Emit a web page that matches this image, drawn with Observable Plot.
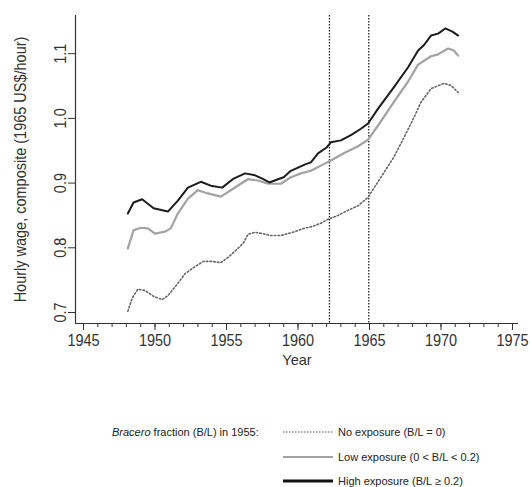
<!DOCTYPE html>
<html>
<head>
<meta charset="utf-8">
<script src="https://cdn.jsdelivr.net/npm/d3@7"></script>
<script src="https://cdn.jsdelivr.net/npm/@observablehq/plot@0.6"></script>
<style>
  body { margin: 0; background: #fff; }
  #wrap { position: relative; width: 530px; height: 487px; font-family: "Liberation Sans", Arial, sans-serif; color: #222; }
  #legend { position: absolute; left: 0; top: 0; width: 530px; height: 487px; pointer-events: none; }
  .lg { position: absolute; font-size: 11px; white-space: nowrap; line-height: 12px; }
</style>
</head>
<body>
<div id="wrap">
  <div id="chart"></div>
  <div id="legend"></div>
</div>
<script>
// ---- data ----
const highYears = [1948.1, 1948.5, 1949.1, 1949.9, 1950.9, 1951.6, 1952.3, 1953.2, 1953.9, 1954.7, 1955.5, 1956.3, 1957.0, 1957.5, 1958.0, 1958.6, 1959.0, 1959.5, 1960.0, 1960.5, 1960.9, 1961.4, 1962.0, 1962.3, 1963.0, 1963.7, 1964.4, 1964.9, 1965.6, 1966.7, 1967.7, 1968.4, 1968.8, 1969.3, 1969.8, 1970.3, 1970.8, 1971.2];
const highWage  = [0.853, 0.870, 0.875, 0.861, 0.856, 0.873, 0.893, 0.902, 0.896, 0.893, 0.907, 0.915, 0.912, 0.907, 0.901, 0.906, 0.909, 0.919, 0.924, 0.929, 0.932, 0.946, 0.955, 0.963, 0.966, 0.974, 0.984, 0.992, 1.015, 1.048, 1.079, 1.105, 1.113, 1.128, 1.131, 1.139, 1.134, 1.128];

const lowYears = [1948.1, 1948.5, 1949.0, 1949.5, 1950.0, 1950.7, 1951.1, 1951.6, 1952.3, 1953.0, 1953.7, 1954.6, 1955.3, 1956.0, 1956.5, 1957.2, 1957.9, 1958.8, 1959.5, 1960.2, 1960.9, 1961.6, 1962.3, 1963.2, 1964.2, 1964.9, 1965.6, 1966.7, 1967.7, 1968.4, 1969.3, 1969.8, 1970.5, 1970.9, 1971.2];
const lowWage  = [0.799, 0.827, 0.831, 0.830, 0.822, 0.825, 0.830, 0.853, 0.876, 0.889, 0.884, 0.879, 0.889, 0.899, 0.906, 0.904, 0.899, 0.899, 0.909, 0.915, 0.919, 0.927, 0.935, 0.946, 0.957, 0.967, 0.989, 1.025, 1.057, 1.083, 1.096, 1.099, 1.108, 1.105, 1.097];

const noYears = [1948.1, 1948.4, 1948.8, 1949.3, 1949.9, 1950.5, 1950.9, 1951.6, 1952.1, 1952.8, 1953.4, 1954.0, 1954.6, 1955.1, 1955.8, 1956.2, 1956.5, 1957.0, 1957.5, 1958.1, 1958.8, 1959.3, 1959.8, 1960.4, 1961.0, 1961.6, 1962.1, 1962.8, 1963.5, 1964.2, 1964.9, 1965.3, 1965.8, 1966.7, 1967.4, 1968.1, 1968.6, 1969.3, 1970.2, 1970.7, 1971.2];
const noWage  = [0.702, 0.722, 0.736, 0.734, 0.725, 0.720, 0.726, 0.745, 0.760, 0.771, 0.779, 0.779, 0.777, 0.785, 0.799, 0.808, 0.821, 0.824, 0.822, 0.819, 0.819, 0.822, 0.825, 0.830, 0.833, 0.838, 0.844, 0.850, 0.858, 0.865, 0.878, 0.892, 0.909, 0.940, 0.970, 1.001, 1.025, 1.046, 1.054, 1.051, 1.040];

const eventYears = [1962.2, 1964.95];
const xTicks = [1945, 1950, 1955, 1960, 1965, 1970, 1975];
const yTicks = [0.7, 0.8, 0.9, 1.0, 1.1];

const legendTitle = "fraction (B/L) in 1955:";
const legendLabels = ["No exposure (B/L = 0)", "Low exposure (0 < B/L < 0.2)", "High exposure (B/L \u2265 0.2)"];

// ---- build ----
const toRows = (ys, vs) => ys.map((year, i) => ({year, wage: vs[i]}));
const high = toRows(highYears, highWage);
const low = toRows(lowYears, lowWage);
const none = toRows(noYears, noWage);

const xDomain = [1944.44, 1975.42];
const yDomain = [0.683, 1.159];

const chart = Plot.plot({
  width: 530,
  height: 370,
  marginLeft: 75,
  marginRight: 12,
  marginTop: 15,
  marginBottom: 47,
  style: {fontFamily: '"Liberation Sans", Arial, sans-serif', fontSize: "14.5px", color: "#333", background: "#fff"},
  x: {domain: xDomain},
  y: {domain: yDomain},
  marks: [
    Plot.ruleX(eventYears, {stroke: "#222", strokeWidth: 1.3, strokeDasharray: "1.4,1.6"}),
    Plot.line(none, {x: "year", y: "wage", stroke: "#666", strokeWidth: 1.6, strokeDasharray: "1.5,2.2"}),
    Plot.line(low, {x: "year", y: "wage", stroke: "#a2a2a2", strokeWidth: 2.2}),
    Plot.line(high, {x: "year", y: "wage", stroke: "#1c1c1c", strokeWidth: 2}),
    Plot.ruleY([yDomain[0]], {stroke: "#333", strokeWidth: 1.2}),
    Plot.ruleX([xDomain[0]], {stroke: "#333", strokeWidth: 1.2}),
    Plot.axisX({ticks: d3.range(1945, 1976), tickSize: 4, text: null, label: null, stroke: "#333"}),
    Plot.axisX({ticks: xTicks, tickSize: 7, tickPadding: 3, tickFormat: d => String(d), label: "Year", labelAnchor: "center", labelArrow: "none", labelOffset: 41, stroke: "#333", fill: "#333"}),
    Plot.axisY({ticks: yTicks, tickSize: 7, tickPadding: 3, tickRotate: -90, tickFormat: d3.format(".1f"), label: "Hourly wage, composite (1965 US$/hour)", labelAnchor: "center", labelArrow: "none", labelOffset: 62, stroke: "#333", fill: "#333"})
  ]
});
document.getElementById("chart").appendChild(chart);

// stretch tick and y-label text vertically (the reference uses tall, narrow glyphs)
d3.select(chart).selectAll("g[aria-label$='tick label'] text, g[aria-label='y-axis label'] text").each(function() {
  const t = this.getAttribute("transform");
  if (t) {
    this.setAttribute("transform", t + " scale(1,1.18)");
  } else {
    const x = +(this.getAttribute("x") || 0), y = +(this.getAttribute("y") || 0);
    this.removeAttribute("x"); this.removeAttribute("y");
    this.setAttribute("transform", `translate(${x},${y}) scale(1,1.18)`);
  }
});

// ---- legend (below the plot) ----
const lg = document.getElementById("legend");
const title = document.createElement("div");
title.className = "lg";
title.style.left = "112px"; title.style.top = "426px";
title.innerHTML = "<i>Bracero</i> " + legendTitle;
lg.appendChild(title);
const styles = [
  {stroke: "#555", width: 1.2, dash: "1.5,1.5"},
  {stroke: "#a2a2a2", width: 2, dash: null},
  {stroke: "#111", width: 3, dash: null}
];
const tops = [432, 457, 481];
legendLabels.forEach((t, i) => {
  const s = d3.select(lg).append("svg")
    .attr("width", 56).attr("height", 10)
    .style("position", "absolute").style("left", "280px").style("top", (tops[i] - 5) + "px");
  s.append("line").attr("x1", 3).attr("x2", 53).attr("y1", 5).attr("y2", 5)
    .attr("stroke", styles[i].stroke).attr("stroke-width", styles[i].width)
    .attr("stroke-dasharray", styles[i].dash);
  const d = document.createElement("div");
  d.className = "lg";
  d.style.left = "338px"; d.style.top = (tops[i] - 6) + "px";
  d.textContent = t;
  lg.appendChild(d);
});
</script>
</body>
</html>
